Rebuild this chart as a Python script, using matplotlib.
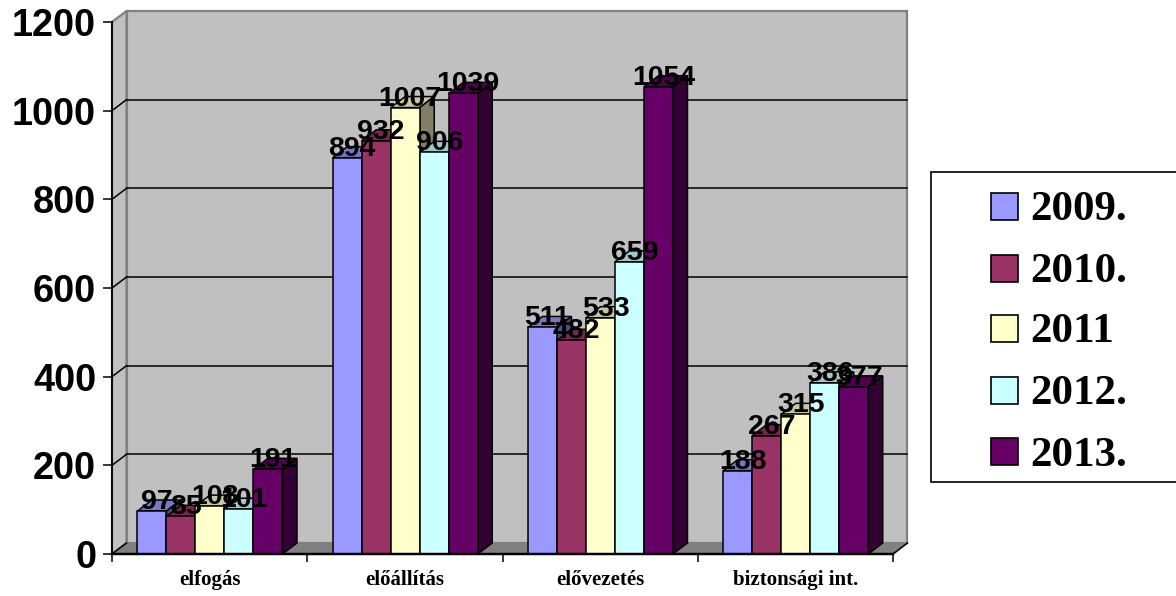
"""3D-style clustered bar chart drawn with plain matplotlib patches."""

import matplotlib
matplotlib.use('Agg')
import matplotlib.pyplot as plt
from matplotlib.colors import to_rgb
from matplotlib.patches import Polygon, Rectangle

categories = ['elfogás', 'előállítás', 'elővezetés', 'biztonsági int.']
series_names = ['2009.', '2010.', '2011', '2012.', '2013.']
values_2009 = [97, 894, 511, 188]
values_2010 = [85, 932, 482, 267]
values_2011 = [108, 1007, 533, 315]
values_2012 = [101, 906, 659, 386]
values_2013 = [191, 1039, 1054, 377]
y_ticks = [0, 200, 400, 600, 800, 1000, 1200]

all_values = [values_2009, values_2010, values_2011, values_2012, values_2013]
colors = ['#9999FF', '#993366', '#FFFFCC', '#CCFFFF', '#660066']

W, H = 1176, 596
AX_L, AX_R, AX_T, AX_B = 112, 893, 22, 554
DEPTH_PX_X, DEPTH_PX_Y = 14.5, 11

fig = plt.figure(figsize=(W / 100, H / 100), dpi=100, facecolor='white')
ax = fig.add_axes([AX_L / W, 1 - AX_B / H, (AX_R - AX_L) / W, (AX_B - AX_T) / H])
ax.set_xlim(0, 4)
ax.set_ylim(0, 1200)
ax.patch.set_visible(False)
for spine in ax.spines.values():
    spine.set_visible(False)

# depth of the fake 3D box, in data units
dx = DEPTH_PX_X * 4 / (AX_R - AX_L)
dy = DEPTH_PX_Y * 1200 / (AX_B - AX_T)
xmax, ymax = 4, 1200
LW = 1.1


def add_poly(points, **kwargs):
    ax.add_patch(Polygon(points, closed=True, clip_on=False, **kwargs))


def shade(color, factor):
    return tuple(c * factor for c in to_rgb(color))


# walls and floor
add_poly([(dx, dy), (xmax + dx, dy), (xmax + dx, ymax + dy), (dx, ymax + dy)],
         facecolor='#C0C0C0', edgecolor='#808080', linewidth=1.6, zorder=1)
add_poly([(0, 0), (dx, dy), (dx, ymax + dy), (0, ymax)],
         facecolor='#C0C0C0', edgecolor='#808080', linewidth=1.6, zorder=1)
add_poly([(0, 0), (xmax, 0), (xmax + dx, dy), (dx, dy)],
         facecolor='#808080', edgecolor='#808080', linewidth=1, zorder=1)

# gridlines on the back wall and the side wall
for tick in y_ticks[1:-1]:
    ax.plot([dx, xmax + dx], [tick + dy, tick + dy], color='black', lw=LW,
            clip_on=False, zorder=2)
for tick in y_ticks[:-1]:
    ax.plot([0, dx], [tick, tick + dy], color='black', lw=LW, clip_on=False, zorder=2)
ax.plot([xmax, xmax + dx], [0, dy], color='black', lw=LW, clip_on=False, zorder=2)
ax.plot([0, 0], [0, ymax], color='black', lw=LW * 1.2, clip_on=False, zorder=6)
ax.plot([0, xmax], [0, 0], color='black', lw=LW * 1.6, clip_on=False, zorder=6)

# bars
bar_w = 0.1485
start = 0.1306
zo = 3
for cat_idx in range(len(categories)):
    for s_idx, vals in enumerate(all_values):
        left = cat_idx + start + s_idx * bar_w
        v = vals[cat_idx]
        right = left + bar_w
        add_poly([(left, v), (right, v), (right + dx, v + dy), (left + dx, v + dy)],
                 facecolor=shade(colors[s_idx], 0.78), edgecolor='black', linewidth=LW, zorder=zo)
        add_poly([(right, 0), (right + dx, dy), (right + dx, v + dy), (right, v)],
                 facecolor=shade(colors[s_idx], 0.5), edgecolor='black', linewidth=LW, zorder=zo)
        ax.bar(left, v, width=bar_w, align='edge', color=colors[s_idx], edgecolor='black',
               linewidth=LW, zorder=zo + 0.5, clip_on=False)
        zo += 0.01

# value labels go on top of everything
for cat_idx in range(len(categories)):
    for s_idx, vals in enumerate(all_values):
        center = cat_idx + start + (s_idx + 0.5) * bar_w
        ax.annotate(str(vals[cat_idx]), xy=(center, vals[cat_idx]), xytext=(5, 2),
                    textcoords='offset pixels', ha='center', va='baseline',
                    fontsize=20.5, fontweight='bold', family='Liberation Sans',
                    color='black', zorder=10, annotation_clip=False)

# axes ticks and labels
ax.set_yticks(y_ticks)
ax.set_yticklabels([str(t) for t in y_ticks], fontsize=27.3, fontweight='bold',
                   family='Liberation Sans')
ax.tick_params(axis='y', length=6.5, width=1.1, pad=5)
ax.set_xticks(range(5))
ax.set_xticklabels([])
ax.tick_params(axis='x', length=6, width=1.1)
ax.set_xticks([i + 0.5 for i in range(4)], minor=True)
ax.set_xticklabels(categories, minor=True, fontsize=15, fontweight='bold',
                   family='Liberation Serif')
ax.tick_params(axis='x', which='minor', length=0, pad=11.5)

# legend box, open on the right edge of the picture


def fx(px):
    return px / W


def fy(px):
    return 1 - px / H


fig.add_artist(Rectangle((fx(931), fy(482)), fx(260), 310 / H, transform=fig.transFigure,
                         facecolor='white', edgecolor='black', linewidth=1.2, clip_on=False))
legend_y = [206, 268, 328, 390, 451]
for name, color, yc in zip(series_names, colors, legend_y):
    fig.add_artist(Rectangle((fx(991), fy(yc + 13.5)), 27 / W, 27 / H, transform=fig.transFigure,
                             facecolor=color, edgecolor='black', linewidth=1.2))
    fig.text(fx(1030), fy(yc), name, fontsize=31, fontweight='bold', family='Liberation Serif',
             ha='left', va='center_baseline', color='black')

fig.savefig('out.png', dpi=100, facecolor='white')
plt.close(fig)
